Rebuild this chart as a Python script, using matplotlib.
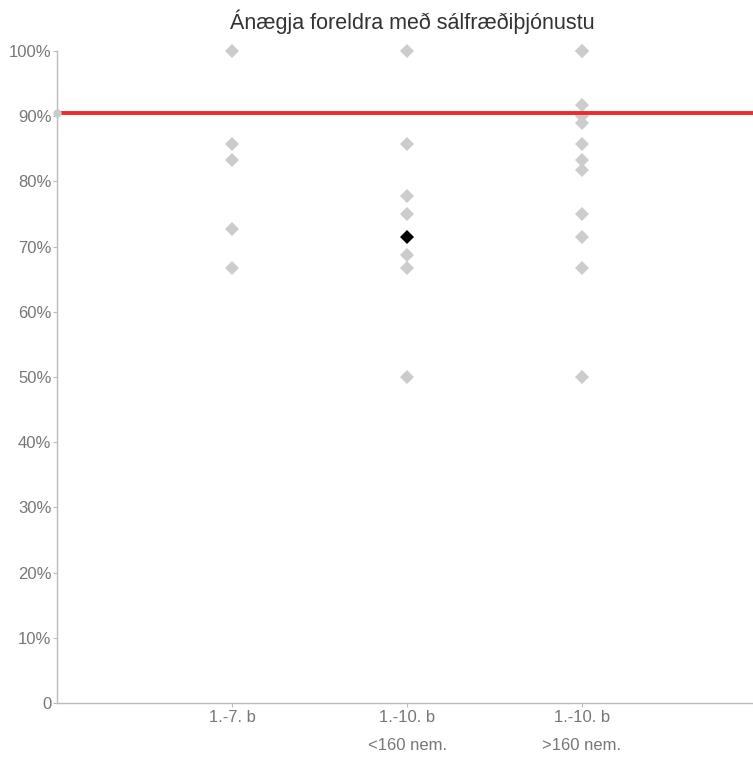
import matplotlib.pyplot as plt

plt.rcParams['font.family'] = ['Liberation Sans', 'DejaVu Sans']

title = 'Ánægja foreldra með sálfræðiþjónustu'
categories = ['1.-7. b', '1.-10. b\n<160 nem.', '1.-10. b\n>160 nem.']

# satisfaction per school, one list per category
vals_1_7 = [100, 85.7, 83.3, 72.7, 66.7]
vals_small = [100, 85.7, 77.8, 75.0, 68.75, 66.7, 50.0]
vals_large = [100, 100, 91.7, 90.0, 88.9, 85.7, 83.3, 81.8, 75.0, 71.4, 66.7, 50.0]
groups = [vals_1_7, vals_small, vals_large]

highlight_cat = 2
highlight_val = 71.4
reference = 90.5

yticks = list(range(0, 101, 10))
ytick_labels = ['0'] + ['%d%%' % t for t in yticks[1:]]

fig = plt.figure(figsize=(7.53, 7.58), dpi=100)
ax = fig.add_axes([57 / 753, 1 - 703 / 758, 1 - 57 / 753, (703 - 51) / 758])

for i, vals in enumerate(groups):
    ax.plot([i + 1] * len(vals), vals, 'D', color='#cccccc', markersize=7.5,
            markeredgewidth=0, zorder=2, clip_on=False)

ax.plot([highlight_cat], [highlight_val], 'D', color='black', markersize=7.5,
        markeredgewidth=0, zorder=4, clip_on=False)

ax.plot([0, 4], [reference, reference], color='#ee2a2a', lw=2.8, zorder=3,
        solid_capstyle='butt')
ax.plot([0], [reference], 'o', color='#cccccc', markersize=5, zorder=3,
        clip_on=False)

ax.set_xlim(0, 696 / 175)
ax.set_ylim(0, 100)
ax.set_xticks([1, 2, 3])
ax.set_xticklabels(categories, linespacing=2.1)
ax.set_yticks(yticks)
ax.set_yticklabels(ytick_labels)
ax.tick_params(axis='both', colors='#bbbbbb', labelcolor='#777777',
               labelsize=12, length=3, width=0.8, pad=1)
ax.tick_params(axis='x', pad=2)

for side in ['top', 'right']:
    ax.spines[side].set_visible(False)
for side in ['left', 'bottom']:
    ax.spines[side].set_color('#bbbbbb')
    ax.spines[side].set_linewidth(1.0)

fig.text(412 / 753, 1 - 22 / 758, title, ha='center', va='center',
         fontsize=15.5, color='#333333')

fig.savefig('out.png', dpi=100)
